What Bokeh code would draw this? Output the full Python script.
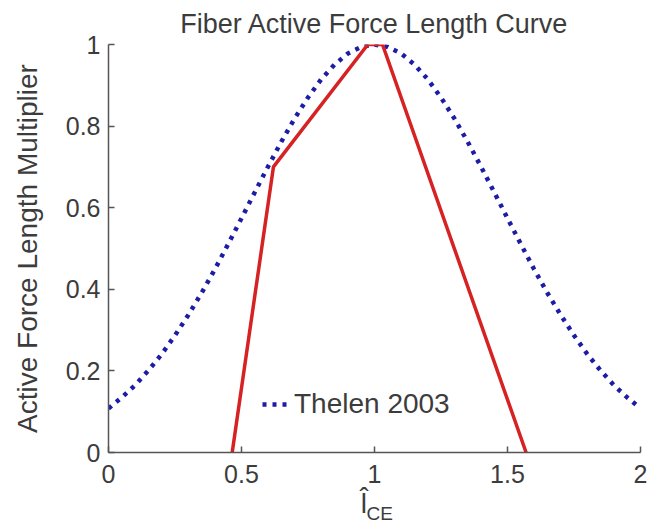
from bokeh.plotting import figure
from bokeh.models import FixedTicker, Legend, LegendItem, LinearAxis, Range1d
from bokeh.embed import file_html
from bokeh.resources import INLINE

# Thelen 2003 active force-length curve (normalized fiber length vs multiplier)
thelen_l = [0.00, 0.05, 0.10, 0.15, 0.20, 0.25, 0.30, 0.35, 0.40, 0.45, 0.50,
            0.55, 0.60, 0.65, 0.70, 0.75, 0.80, 0.85, 0.90, 0.95, 1.00,
            1.05, 1.10, 1.15, 1.20, 1.25, 1.30, 1.35, 1.40, 1.45, 1.50,
            1.55, 1.60, 1.65, 1.70, 1.75, 1.80, 1.85, 1.90, 1.95, 2.00]
thelen_f = [0.108, 0.135, 0.165, 0.201, 0.241, 0.287, 0.337, 0.391, 0.449, 0.511, 0.574,
            0.638, 0.701, 0.762, 0.819, 0.870, 0.915, 0.951, 0.978, 0.994, 1.000,
            0.994, 0.978, 0.951, 0.915, 0.870, 0.819, 0.762, 0.701, 0.638, 0.574,
            0.511, 0.449, 0.391, 0.337, 0.287, 0.241, 0.201, 0.165, 0.135, 0.108]

# Piecewise-linear force-length curve
linear_l = [0.465, 0.62, 0.975, 1.03, 1.57]
linear_f = [0.0, 0.70, 1.0, 1.0, 0.0]

x_ticks = [0, 0.5, 1, 1.5, 2]
x_tick_labels = ["0", "0.5", "1", "1.5", "2"]
y_ticks = [0, 0.2, 0.4, 0.6, 0.8, 1]
y_tick_labels = ["0", "0.2", "0.4", "0.6", "0.8", "1"]

FONT = "Liberation Sans"
TEXT = "#3c3c3c"
AXIS = "#555555"
FSP = "\u2007"   # figure space, used to nudge centred labels sideways

p = figure(width=653, height=526, output_backend="svg", toolbar_location=None,
           x_range=Range1d(0, 2), y_range=Range1d(0, 1),
           min_border_left=108, min_border_right=13,
           min_border_top=44, min_border_bottom=74)
p.outline_line_color = None
p.background_fill_color = "white"
p.border_fill_color = "white"
p.xgrid.visible = False
p.ygrid.visible = False

p.title.text = "Fiber Active Force Length Curve"
p.title.align = "center"
p.title.text_font = FONT
p.title.text_font_size = "27px"
p.title.text_font_style = "normal"
p.title.text_color = TEXT
p.title.offset = 0
p.title.standoff = 12

for ax, ticks, labels in ((p.xaxis, x_ticks, x_tick_labels), (p.yaxis, y_ticks, y_tick_labels)):
    ax.ticker = FixedTicker(ticks=ticks)
    ax.major_label_overrides = {t: s for t, s in zip(ticks, labels)}
    ax.major_tick_in = 6
    ax.major_tick_out = 0
    ax.minor_tick_line_color = None
    ax.axis_line_color = AXIS
    ax.axis_line_width = 1.5
    ax.major_tick_line_color = AXIS
    ax.major_tick_line_width = 1.5
    ax.major_label_text_font = FONT
    ax.major_label_text_font_size = "25px"
    ax.major_label_text_color = TEXT
    ax.axis_label_text_font = FONT
    ax.axis_label_text_font_style = "normal"
    ax.axis_label_text_color = TEXT

p.xaxis.major_label_standoff = 12
p.yaxis.major_label_standoff = 8

p.yaxis.axis_label = "Active Force Length Multiplier"
p.yaxis.axis_label_text_font_size = "28px"
p.yaxis.axis_label_standoff = 20

# x-axis label: l-hat, followed by the subscript CE on a second, bare axis
p.xaxis.axis_label = "l̂" + FSP + "\u2009"
p.xaxis.axis_label_text_font_size = "28px"
p.xaxis.axis_label_standoff = 2

sub_axis = LinearAxis(ticker=FixedTicker(ticks=[]), axis_line_color=None,
                      major_tick_line_color=None, minor_tick_line_color=None,
                      major_label_standoff=0,
                      axis_label=FSP + "CE", axis_label_standoff=-19,
                      axis_label_text_font=FONT, axis_label_text_font_size="19px",
                      axis_label_text_font_style="normal",
                      axis_label_text_color=TEXT)
p.add_layout(sub_axis, "below")

thelen = p.line(thelen_l, thelen_f, line_color="#1c1ca6", line_width=4.5,
                line_dash="4 6")
p.line(linear_l, linear_f, line_color="#d62222", line_width=3.5)

legend = Legend(items=[LegendItem(label="Thelen 2003", renderers=[thelen])],
                location=(154, 32), border_line_color=None,
                background_fill_alpha=0, glyph_width=26, label_standoff=6,
                label_text_font=FONT, label_text_font_size="28px",
                label_text_color=TEXT, padding=4, margin=0)
p.add_layout(legend)

open("out.html", "w").write(file_html(p, INLINE))
